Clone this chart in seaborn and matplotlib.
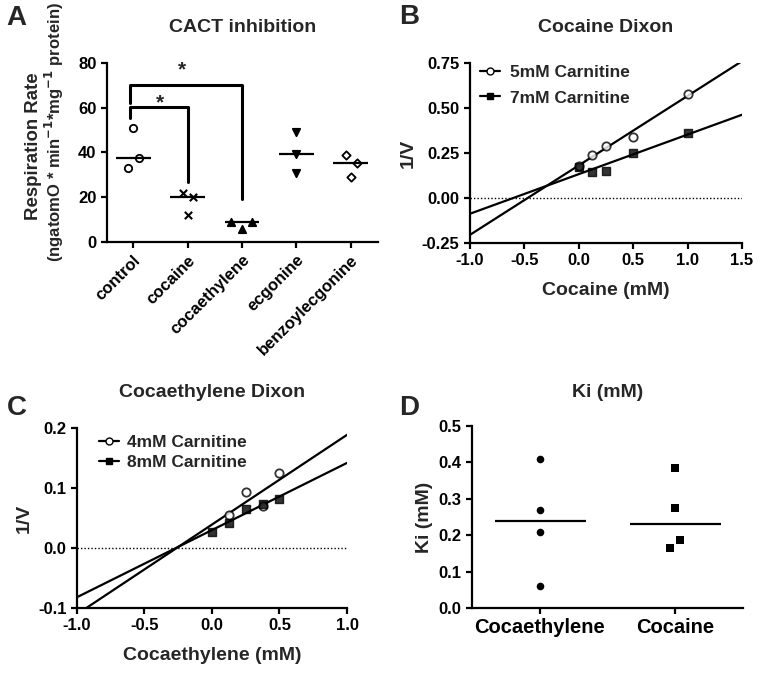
import numpy as np
import pandas as pd
import matplotlib
matplotlib.use("Agg")
import matplotlib.pyplot as plt
from matplotlib.lines import Line2D
import seaborn as sns

sns.set_theme(style="ticks")
plt.rcParams['font.family'] = ['Liberation Sans', 'DejaVu Sans']
plt.rcParams['font.weight'] = 'bold'
plt.rcParams['axes.labelweight'] = 'bold'
plt.rcParams['axes.titleweight'] = 'bold'
plt.rcParams['axes.linewidth'] = 1.6
plt.rcParams['xtick.major.width'] = 1.6
plt.rcParams['ytick.major.width'] = 1.6
plt.rcParams['xtick.major.size'] = 4
plt.rcParams['ytick.major.size'] = 4
plt.rcParams['xtick.labelsize'] = 12
plt.rcParams['ytick.labelsize'] = 12
plt.rcParams['xtick.color'] = 'black'
plt.rcParams['ytick.color'] = 'black'
plt.rcParams['axes.edgecolor'] = 'black'

# panel A data (respiration rate)
groups_a = ["control", "cocaine", "cocaethylene", "ecgonine", "benzoylecgonine"]
control = [51, 37.5, 33]
cocaine = [22, 20, 12]
cocaethylene = [9, 6, 9]
ecgonine = [49, 39.5, 31]
benzoylecgonine = [39, 35.5, 29]
# horizontal scatter offsets
offs_a = {"control": [0.0, 0.11, -0.09], "cocaine": [-0.09, 0.11, 0.0],
          "cocaethylene": [-0.2, 0.0, 0.19], "ecgonine": [0.0, 0.0, 0.0],
          "benzoylecgonine": [-0.09, 0.11, 0.0]}
vals_a = {"control": control, "cocaine": cocaine, "cocaethylene": cocaethylene,
          "ecgonine": ecgonine, "benzoylecgonine": benzoylecgonine}
mark_a = {"control": ("o", "white"), "cocaine": ("x", "black"), "cocaethylene": ("^", "black"),
          "ecgonine": ("v", "black"), "benzoylecgonine": ("D", "white")}

# panel B data (cocaine dixon)
coc_conc = [0, 0.125, 0.25, 0.5, 1.0]
coc_5mM = [0.18, 0.24, 0.29, 0.34, 0.58]
coc_7mM = [0.17, 0.145, 0.15, 0.25, 0.36]

# panel C data (cocaethylene dixon)
ce_conc_4 = [0.125, 0.25, 0.375, 0.5]
ce_4mM = [0.055, 0.093, 0.07, 0.125]
ce_conc_8 = [0, 0.125, 0.25, 0.375, 0.5]
ce_8mM = [0.027, 0.042, 0.065, 0.074, 0.081]

# panel D data (Ki)
ki_groups = ["Cocaethylene", "Cocaine"]
ki_cocaethylene = [0.41, 0.27, 0.21, 0.06]
ki_cocaine = [0.385, 0.275, 0.187, 0.165]
ki_offs = [[0, 0, 0, 0], [0, 0, 0.04, -0.04]]

fig = plt.figure(figsize=(7.61, 6.74), dpi=100)
axA = fig.add_axes([0.1406, 0.641, 0.356, 0.2655])
axB = fig.add_axes([0.6176, 0.6395, 0.3574, 0.267])
axC = fig.add_axes([0.101, 0.098, 0.355, 0.267])
axD = fig.add_axes([0.620, 0.098, 0.356, 0.270])

# ---- A
for i, g in enumerate(groups_a):
    m, fc = mark_a[g]
    xs = [i + o for o in offs_a[g]]
    if m == "x":
        sns.scatterplot(x=xs, y=vals_a[g], marker="x", color="black", s=28, linewidth=1.5, ax=axA)
    else:
        sz = 18 if m == "D" else 28
        sns.scatterplot(x=xs, y=vals_a[g], marker=m, facecolor=fc, edgecolor="black",
                        s=sz, linewidth=1.3, ax=axA)
    axA.hlines(np.median(vals_a[g]), i - 0.32, i + 0.32, color="black", lw=1.6)
# significance brackets
axA.plot([-0.05, -0.05, 1, 1], [55.4, 60.2, 60.2, 27], color="black", lw=2.2)
axA.plot([-0.05, -0.05, 2, 2], [62, 70.3, 70.3, 19], color="black", lw=2.2)
axA.text(0.5, 62, "*", ha="center", va="center", fontsize=15)
axA.text(0.9, 77, "*", ha="center", va="center", fontsize=15)
axA.set_xlim(-0.48, 4.5)
axA.set_ylim(0, 80)
axA.set_yticks([0, 20, 40, 60, 80])
axA.set_xticks(range(len(groups_a)))
axA.set_xticklabels(groups_a, rotation=45, ha="right", rotation_mode="anchor")
axA.set_ylabel("")
fig.text(0.0434, 0.7834, "Respiration Rate", rotation=90, ha="center", va="center", fontsize=13.4)
fig.text(0.071, 0.804, "(ngatomO * min$^{\\mathbf{-1}}$*mg$^{\\mathbf{-1}}$ protein)", rotation=90,
         ha="center", va="center", fontsize=12)
axA.set_title("CACT inhibition", fontsize=14, pad=22)
sns.despine(ax=axA)

# ---- B
axB.set_xlim(-1.0, 1.5)
axB.set_ylim(-0.25, 0.75)
axB.axhline(0, color="black", lw=1, ls=(0, (1, 1.5)))
sns.regplot(x=coc_conc, y=coc_5mM, ci=None, truncate=False, marker="o", ax=axB,
            scatter_kws=dict(s=36, facecolors="white", edgecolors="black", linewidths=1.3, zorder=3),
            line_kws=dict(color="black", lw=1.6))
sns.regplot(x=coc_conc, y=coc_7mM, ci=None, truncate=False, marker="s", ax=axB,
            scatter_kws=dict(s=30, color="black", zorder=3),
            line_kws=dict(color="black", lw=1.6))
axB.set_xticks([-1.0, -0.5, 0.0, 0.5, 1.0, 1.5])
axB.set_xticklabels(["-1.0", "-0.5", "0.0", "0.5", "1.0", "1.5"])
axB.set_yticks([-0.25, 0, 0.25, 0.5, 0.75])
axB.set_yticklabels(["-0.25", "0.00", "0.25", "0.50", "0.75"])
axB.set_xlabel("Cocaine (mM)", fontsize=14, labelpad=10)
axB.set_ylabel("1/V", fontsize=14)
axB.set_title("Cocaine Dixon", fontsize=14, pad=22)
hB = [Line2D([], [], color="black", lw=1.6, marker="o", mfc="white", mec="black", ms=5),
      Line2D([], [], color="black", lw=1.6, marker="s", mfc="black", mec="black", ms=5)]
axB.legend(hB, ["5mM Carnitine", "7mM Carnitine"], loc="upper left", frameon=False,
           fontsize=12.5, handlelength=1.15, handletextpad=0.55, borderaxespad=0.2, labelspacing=0.62,
           bbox_to_anchor=(0.0, 1.05))
sns.despine(ax=axB)

# ---- C
axC.set_xlim(-1.0, 1.0)
axC.set_ylim(-0.1, 0.2)
axC.axhline(0, color="black", lw=1, ls=(0, (1, 1.5)))
sns.regplot(x=ce_conc_4, y=ce_4mM, ci=None, truncate=False, marker="o", ax=axC,
            scatter_kws=dict(s=36, facecolors="white", edgecolors="black", linewidths=1.3, zorder=3),
            line_kws=dict(color="black", lw=1.6))
sns.regplot(x=ce_conc_8, y=ce_8mM, ci=None, truncate=False, marker="s", ax=axC,
            scatter_kws=dict(s=30, color="black", zorder=3),
            line_kws=dict(color="black", lw=1.6))
axC.set_xticks([-1.0, -0.5, 0.0, 0.5, 1.0])
axC.set_xticklabels(["-1.0", "-0.5", "0.0", "0.5", "1.0"])
axC.set_yticks([-0.1, 0.0, 0.1, 0.2])
axC.set_yticklabels(["-0.1", "0.0", "0.1", "0.2"])
axC.set_xlabel("Cocaethylene (mM)", fontsize=14, labelpad=10)
axC.set_ylabel("1/V", fontsize=14)
axC.set_title("Cocaethylene Dixon", fontsize=14, pad=22)
hC = [Line2D([], [], color="black", lw=1.6, marker="o", mfc="white", mec="black", ms=5),
      Line2D([], [], color="black", lw=1.6, marker="s", mfc="black", mec="black", ms=5)]
axC.legend(hC, ["4mM Carnitine", "8mM Carnitine"], loc="upper left", frameon=False,
           fontsize=12.5, handlelength=1.15, handletextpad=0.45, borderaxespad=0.2, labelspacing=0.3,
           bbox_to_anchor=(0.045, 1.02))
sns.despine(ax=axC)

# ---- D
for i, (vals, m) in enumerate([(ki_cocaethylene, "o"), (ki_cocaine, "s")]):
    xs = [i + o for o in ki_offs[i]]
    sns.scatterplot(x=xs, y=vals, marker=m, color="black", s=30, linewidth=0, ax=axD)
    axD.hlines(np.median(vals), i - 0.33, i + 0.34, color="black", lw=1.6)
axD.set_xlim(-0.5, 1.5)
axD.set_ylim(0, 0.5)
axD.set_xticks([0, 1])
axD.set_xticklabels(ki_groups, fontsize=14.5)
axD.set_yticks([0, 0.1, 0.2, 0.3, 0.4, 0.5])
axD.set_yticklabels(["0.0", "0.1", "0.2", "0.3", "0.4", "0.5"])
axD.set_ylabel("Ki (mM)", fontsize=14)
axD.set_title("Ki (mM)", fontsize=14, pad=21)
sns.despine(ax=axD)

# panel letters
for lab, x, y in [("A", 0.008, 0.963), ("B", 0.524, 0.964), ("C", 0.009, 0.384), ("D", 0.524, 0.384)]:
    fig.text(x, y, lab, fontsize=20, fontweight="bold", va="baseline", ha="left")

fig.savefig("out.png", dpi=100)
